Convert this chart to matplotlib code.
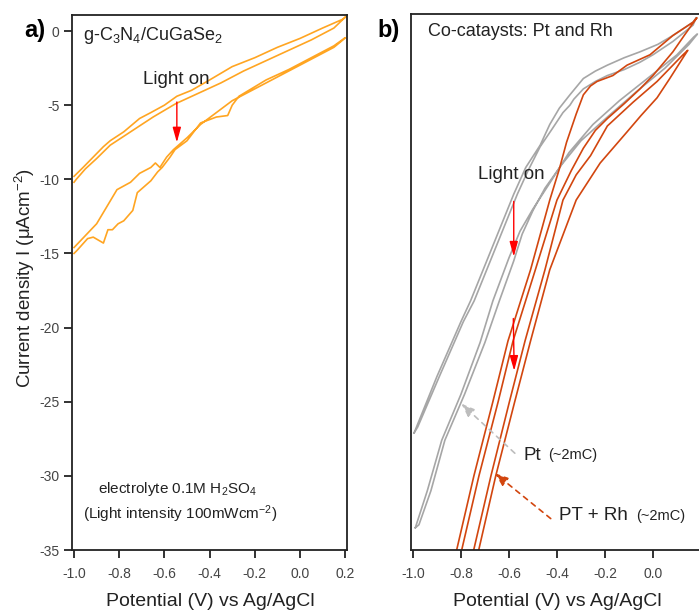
import matplotlib
matplotlib.use('Agg')
import matplotlib.pyplot as plt

plt.rcParams['font.family'] = ['Liberation Sans', 'DejaVu Sans']
plt.rcParams['mathtext.fontset'] = 'custom'
plt.rcParams['mathtext.rm'] = 'Liberation Sans'
plt.rcParams['mathtext.it'] = 'Liberation Sans:italic'
plt.rcParams['mathtext.bf'] = 'Liberation Sans:bold'

ORANGE = '#FFA522'
RED_OR = '#D2460F'
GRAY = '#A6A6A6'
TXT = '#222222'

# ---- panel a: g-C3N4/CuGaSe2, two CV loops (up sweep then back)
a_loop1_x = [-1.0, -0.96, -0.915, -0.87, -0.84, -0.78, -0.71, -0.66, -0.60, -0.545, -0.48, -0.40,
             -0.30, -0.20, -0.10, 0.0, 0.10, 0.19, 0.205,
             0.15, 0.05, -0.05, -0.15, -0.25, -0.35, -0.45, -0.55, -0.65, -0.75, -0.84, -0.90,
             -0.95, -0.99, -1.0]
a_loop1_y = [-9.8, -9.2, -8.5, -7.8, -7.4, -6.8, -5.9, -5.5, -5.0, -4.4, -4.0, -3.3,
             -2.4, -1.8, -1.1, -0.5, 0.2, 0.8, 1.0,
             0.2, -0.6, -1.3, -2.0, -2.7, -3.5, -4.2, -4.9, -5.8, -6.8, -7.7, -8.6,
             -9.3, -10.0, -10.2]

a_loop2_x = [-1.0, -0.95, -0.90, -0.81, -0.75, -0.71, -0.66, -0.64, -0.62, -0.59, -0.56, -0.50,
             -0.44, -0.37, -0.30, -0.20, -0.075, 0.05, 0.15, 0.19, 0.20,
             0.15, 0.05, -0.05, -0.15, -0.27, -0.30, -0.32, -0.37, -0.44, -0.50, -0.553, -0.575,
             -0.61, -0.63, -0.66, -0.72, -0.74, -0.78, -0.805, -0.83, -0.85, -0.87, -0.915,
             -0.94, -0.987, -1.0]
a_loop2_y = [-14.6, -13.8, -13.0, -10.7, -10.2, -9.6, -9.2, -8.9, -9.2, -8.5, -8.0, -7.2,
             -6.3, -5.5, -4.7, -3.9, -2.9, -1.9, -1.1, -0.6, -0.45,
             -1.0, -1.8, -2.6, -3.3, -4.4, -5.0, -5.7, -5.8, -6.2, -7.4, -8.0, -8.5,
             -9.2, -9.5, -10.1, -10.9, -12.1, -12.8, -13.0, -13.4, -13.4, -14.3, -13.9,
             -14.0, -14.8, -15.0]

# ---- panel b: Pt (gray) and Pt + Rh (orange-red) loops
pt_loop1_x = [-0.995, -0.90, -0.80, -0.76, -0.72, -0.65, -0.58, -0.53, -0.47, -0.43, -0.39,
              -0.346, -0.29, -0.24, -0.19, -0.12, -0.054, 0.02, 0.083, 0.13, 0.167, 0.18,
              0.167, 0.083, 0.0, -0.054, -0.12, -0.19, -0.24, -0.29, -0.33, -0.346, -0.375,
              -0.42, -0.47, -0.52, -0.565, -0.635, -0.705, -0.745, -0.79, -0.89, -0.98, -0.995]
pt_loop1_y = [-27.1, -23.3, -19.6, -18.2, -16.6, -13.8, -11.0, -9.2, -7.7, -6.3, -5.2,
              -4.3, -3.2, -2.7, -2.3, -1.8, -1.4, -0.9, -0.3, 0.2, 0.6, 0.9,
              0.4, -0.7, -1.6, -2.1, -2.6, -3.0, -3.4, -3.9, -4.6, -5.0, -5.5,
              -6.6, -7.8, -9.4, -11.0, -13.8, -16.6, -18.2, -19.6, -23.3, -26.7, -27.1]

pt_loop2_x = [-0.99, -0.94, -0.88, -0.80, -0.72, -0.667, -0.60, -0.554, -0.50, -0.42, -0.35,
              -0.25, -0.14, 0.0, 0.10, 0.17, 0.185,
              0.15, 0.05, -0.07, -0.19, -0.30, -0.38, -0.45, -0.50, -0.545, -0.58, -0.64,
              -0.70, -0.785, -0.867, -0.925, -0.975, -0.99]
pt_loop2_y = [-33.5, -31.0, -27.6, -24.5, -21.0, -18.2, -15.3, -13.5, -12.0, -10.0, -8.2,
              -6.3, -4.7, -2.9, -1.6, -0.4, -0.2,
              -0.9, -2.5, -4.1, -5.8, -7.4, -9.0, -10.6, -12.1, -13.7, -15.5, -18.2,
              -21.0, -24.5, -27.6, -31.0, -33.3, -33.5]

rh_loop1_x = [-0.825, -0.746, -0.667, -0.604, -0.51, -0.43, -0.39, -0.36, -0.32, -0.29,
              -0.26, -0.233, -0.167, -0.108, -0.0125, 0.083, 0.167, 0.183,
              0.13, 0.083, 0.0, -0.054, -0.12, -0.19, -0.24, -0.29, -0.34, -0.40, -0.49,
              -0.583, -0.645, -0.725, -0.804]
rh_loop1_y = [-35.5, -30.0, -25.0, -20.9, -16.1, -11.4, -9.3, -7.5, -5.6, -4.3,
              -3.7, -3.4, -3.0, -2.3, -1.6, -0.3, 0.6, 0.9,
              -0.3, -1.4, -3.0, -3.9, -4.9, -5.9, -6.7, -7.9, -9.4, -11.4, -16.1,
              -20.9, -25.0, -30.0, -35.5]

rh_loop2_x = [-0.754, -0.675, -0.598, -0.533, -0.45, -0.375, -0.32, -0.26, -0.19, -0.083,
              0.017, 0.125, 0.145,
              0.125, 0.07, 0.017, -0.05, -0.108, -0.22, -0.32, -0.43, -0.51, -0.576, -0.655,
              -0.733]
rh_loop2_y = [-35.5, -30.0, -25.0, -20.9, -16.1, -11.4, -9.7, -8.4, -6.4, -4.8,
              -3.4, -1.6, -1.3,
              -1.8, -3.2, -4.5, -5.7, -6.8, -8.9, -11.4, -16.1, -20.9, -25.0, -30.0,
              -35.5]

x_ticks = [-1.0, -0.8, -0.6, -0.4, -0.2, 0.0, 0.2]
y_ticks = [0, -5, -10, -15, -20, -25, -30, -35]


def style_axes(ax):
    for s in ax.spines.values():
        s.set_linewidth(1.3)
        s.set_color(TXT)
    ax.tick_params(direction='out', length=6, width=1.3, color=TXT,
                   labelsize=10, labelcolor='#444444', pad=6)


fig = plt.figure(figsize=(6.99, 6.11), dpi=100)

# panel a
axa = fig.add_axes([72/699, 61/611, 275/699, 535/611])
axa.plot(a_loop1_x, a_loop1_y, color=ORANGE, lw=1.2)
axa.plot(a_loop2_x, a_loop2_y, color=ORANGE, lw=1.2)
axa.set_xlim(-1.009, 0.208)
axa.set_ylim(-35, 1.08)
axa.set_xticks(x_ticks)
axa.set_xticklabels([f'{v:.1f}' for v in x_ticks])
axa.set_yticks(y_ticks)
axa.set_yticklabels([str(v) for v in y_ticks])
style_axes(axa)
axa.tick_params(axis='y', pad=3)

axa.text(-0.96, -0.3, r'g-C$_\mathregular{3}$N$_\mathregular{4}$/CuGaSe$_\mathregular{2}$',
         fontsize=13, va='center', color=TXT)
axa.text(-0.695, -3.3, 'Light on', fontsize=13.5, va='center', color=TXT)
axa.annotate('', xy=(-0.545, -7.7), xytext=(-0.545, -4.6),
             arrowprops=dict(arrowstyle='-|>,head_length=0.9,head_width=0.25',
                             color='red', lw=1))
axa.text(-0.894, -30.9, r'electrolyte 0.1M H$_\mathregular{2}$SO$_\mathregular{4}$',
         fontsize=11, va='center', color=TXT)
axa.text(-0.96, -32.6, r'(Light intensity 100mWcm$^\mathregular{-2}$)',
         fontsize=11, va='center', color=TXT)

# panel b
axb = fig.add_axes([411/699, 61/611, 290/699, 536/611])
axb.plot(pt_loop1_x, pt_loop1_y, color=GRAY, lw=1.2)
axb.plot(pt_loop2_x, pt_loop2_y, color=GRAY, lw=1.2)
axb.plot(rh_loop1_x, rh_loop1_y, color=RED_OR, lw=1.2)
axb.plot(rh_loop2_x, rh_loop2_y, color=RED_OR, lw=1.2)
axb.set_xlim(-1.008, 0.2)
axb.set_ylim(-35, 1.15)
axb.set_xticks(x_ticks[:-1])
axb.set_xticklabels([f'{v:.1f}' for v in x_ticks[:-1]])
axb.set_yticks([])
style_axes(axb)
axb.spines['right'].set_visible(False)

axb.text(-0.9375, 0.0, 'Co-cataysts: Pt and Rh', fontsize=13, va='center', color=TXT)
axb.text(-0.729, -9.66, 'Light on', fontsize=13.5, va='center', color=TXT)
axb.annotate('', xy=(-0.58, -15.4), xytext=(-0.58, -11.3),
             arrowprops=dict(arrowstyle='-|>,head_length=0.9,head_width=0.25',
                             color='red', lw=1))
axb.annotate('', xy=(-0.578, -23.1), xytext=(-0.582, -19.2),
             arrowprops=dict(arrowstyle='-|>,head_length=0.9,head_width=0.25',
                             color='red', lw=1))
axb.annotate('', xy=(-0.807, -25.0), xytext=(-0.567, -28.6),
             arrowprops=dict(arrowstyle='-|>,head_length=0.8,head_width=0.3',
                             color='#BDBDBD', lw=1.2, linestyle=(0, (3, 3))))
axb.annotate('', xy=(-0.668, -29.7), xytext=(-0.417, -33.0),
             arrowprops=dict(arrowstyle='-|>,head_length=0.8,head_width=0.3',
                             color=RED_OR, lw=1.2, linestyle=(0, (3, 3))))
axb.text(-0.5375, -28.6, 'Pt', fontsize=13.5, va='center', color=TXT)
axb.text(-0.4375, -28.6, '(~2mC)', fontsize=10.5, va='center', color=TXT)
axb.text(-0.392, -32.7, 'PT + Rh', fontsize=13.5, va='center', color=TXT)
axb.text(-0.07, -32.7, '(~2mC)', fontsize=10.5, va='center', color=TXT)

# panel letters and axis titles
fig.text(24/699, 1 - 31/611, 'a)', fontsize=17, fontweight='bold', va='center')
fig.text(377/699, 1 - 30/611, 'b)', fontsize=17, fontweight='bold', va='center')
fig.text(25/699, 1 - 278/611, r'Current density I ($\mathregular{\mu}$Acm$^\mathregular{-2}$)',
         rotation=90, fontsize=13.5, ha='center', va='center', color=TXT)
fig.text(210/699, 1 - 602/611, 'Potential (V) vs Ag/AgCl', fontsize=14,
         ha='center', va='center', color=TXT)
fig.text(557/699, 1 - 602/611, 'Potential (V) vs Ag/AgCl', fontsize=14,
         ha='center', va='center', color=TXT)

fig.savefig('out.png', dpi=100)
